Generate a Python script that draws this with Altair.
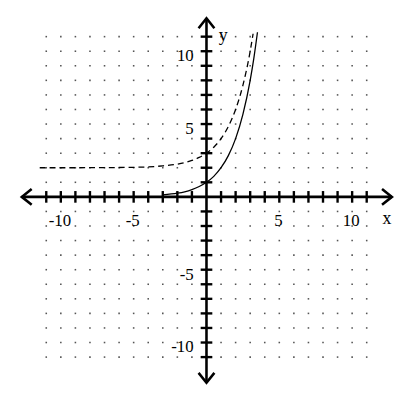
import altair as alt
import pandas as pd

# ---- data ----
solid_x = [-3, -2, -1.5, -1, -0.5, 0, 0.5, 1, 1.5, 2, 2.5, 3, 3.25, 3.5]
solid_y = [0.13, 0.25, 0.35, 0.5, 0.71, 1, 1.41, 2, 2.83, 4, 5.66, 8, 9.51, 11.3]
dash_x = [-11.45, -9, -7, -5, -4, -3, -2, -1.5, -1, -0.5, 0, 0.5, 1, 1.5, 2, 2.5, 3, 3.2]
dash_y = [2, 2, 2.01, 2.03, 2.06, 2.13, 2.25, 2.35, 2.5, 2.71, 3, 3.41, 4, 4.83, 6, 7.66, 10, 11.2]
tick_vals = [v for v in range(-11, 12) if v != 0]
x_label_vals = [-10, -5, 5, 10]
x_label_txt = ["-10", "-5", "5", "10"]
y_label_vals = [10, 5, -5, -10]
y_label_txt = ["10", "5", "-5", "-10"]
axis_x_min, axis_x_max = -12.68, 12.73
axis_y_min, axis_y_max = -12.76, 12.26

XD = [-13.627, 13.492]
YD = [-13.641, 12.8]
xs = alt.Scale(domain=XD, nice=False, zero=False)
ys = alt.Scale(domain=YD, nice=False, zero=False)

def X(f="x"):
    return alt.X(f, type="quantitative", scale=xs, axis=None)

def Y(f="y"):
    return alt.Y(f, type="quantitative", scale=ys, axis=None)

FONT = "Liberation Serif"

grid = pd.DataFrame([(i, j) for i in tick_vals for j in tick_vals], columns=["x", "y"])
dots = alt.Chart(grid).mark_square(size=2.5, color="#555", opacity=1).encode(x=X(), y=Y())

xticks = pd.DataFrame({"x": tick_vals, "y": -0.4, "y2": 0.4})
yticks = pd.DataFrame({"y": tick_vals, "x": -0.4, "x2": 0.4})
xt = alt.Chart(xticks).mark_rule(color="black", strokeWidth=2.4).encode(x=X(), y=Y(), y2="y2")
yt = alt.Chart(yticks).mark_rule(color="black", strokeWidth=2.4).encode(y=Y(), x=X(), x2="x2")

xaxis = alt.Chart(pd.DataFrame({"x": [axis_x_min], "x2": [axis_x_max], "y": [0]})).mark_rule(
    color="black", strokeWidth=2.6).encode(x=X(), x2="x2", y=Y())
yaxis = alt.Chart(pd.DataFrame({"y": [axis_y_min], "y2": [axis_y_max], "x": [0]})).mark_rule(
    color="black", strokeWidth=2.6).encode(y=Y(), y2="y2", x=X())

arrows_df = pd.DataFrame({
    "x": [axis_x_min, axis_x_max, 0, 0],
    "y": [0, 0, axis_y_max, axis_y_min],
    "a": [0, 180, 90, 270],
})
arrows = alt.Chart(arrows_df).mark_point(
    shape="M 1 -0.8 L 0 0 L 1 0.8", size=400, filled=False, color="black",
    strokeWidth=2.6, opacity=1
).encode(x=X(), y=Y(), angle=alt.Angle("a:Q", scale=None))

solid = alt.Chart(pd.DataFrame({"x": solid_x, "y": solid_y})).mark_line(
    color="black", strokeWidth=1.3, interpolate="monotone").encode(x=X(), y=Y(), order="x:Q")
dashed = alt.Chart(pd.DataFrame({"x": dash_x, "y": dash_y})).mark_line(
    color="black", strokeWidth=1.3, strokeDash=[6, 4], interpolate="monotone").encode(
    x=X(), y=Y(), order="x:Q")

xl = alt.Chart(pd.DataFrame({"x": x_label_vals, "t": x_label_txt, "y": 0})).mark_text(
    font=FONT, fontSize=17, color="black", dy=24, dx=-1, baseline="middle").encode(
    x=X(), y=Y(), text="t:N")
yl = alt.Chart(pd.DataFrame({"y": y_label_vals, "t": y_label_txt, "x": 0})).mark_text(
    font=FONT, fontSize=17, color="black", dx=-13, dy=5, align="right", baseline="middle").encode(
    x=X(), y=Y(), text="t:N")

xname = alt.Chart(pd.DataFrame({"x": [axis_x_max], "y": [0], "t": ["x"]})).mark_text(
    font=FONT, fontSize=18, color="black", baseline="middle", dx=-5, dy=22).encode(
    x=X(), y=Y(), text="t:N")
yname = alt.Chart(pd.DataFrame({"x": [0], "y": [axis_y_max], "t": ["y"]})).mark_text(
    font=FONT, fontSize=18, color="black", baseline="middle", dx=17, dy=18).encode(
    x=X(), y=Y(), text="t:N")

chart = alt.layer(dots, dashed, solid, xaxis, yaxis, xt, yt, arrows, xl, yl, xname, yname).properties(
    width=400, height=390, padding=0, background="white",
    autosize=alt.AutoSizeParams(type="none")
).configure_view(stroke=None, strokeWidth=0)

chart.save("out.html", embed_options={"renderer": "svg", "actions": False})
